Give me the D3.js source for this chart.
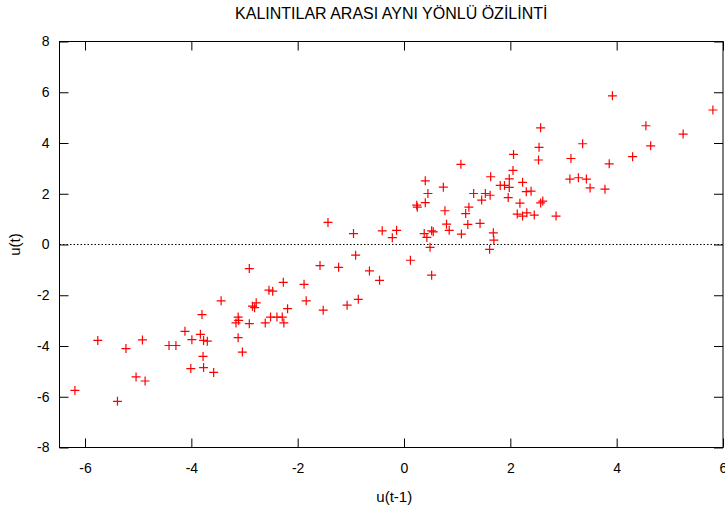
<!DOCTYPE html>
<html lang="tr">
  <head>
    <meta charset="UTF-8" />
    <script src="https://d3js.org/d3.v7.min.js"></script>
    <title>Kalıntılar arası özilinti</title>
    <style>
      body { margin: 0; background: #fff; }
      text { font-family: "Liberation Sans", Arial, sans-serif; fill: #000; }
    </style>
  </head>
  <body>
    <svg id="chart" width="725" height="507"></svg>

    <script>
      // u(t-1) values
      const lagResid = [
        -6.19, -5.76, -5.23, -5.39, -4.92, -5.04, -4.87, -4.42, -4.29, -4.12,
        -3.99, -4.01, -3.80, -3.83, -3.77, -3.70, -3.78, -3.77, -3.58, -3.44,
        -3.12, -3.11, -3.16, -3.12, -3.04, -2.91, -2.91, -2.85, -2.81, -2.78,
        -2.61, -2.54, -2.47, -2.51, -2.39, -2.29, -2.27, -2.26, -2.19, -1.88,
        -1.84, -1.58, -1.52, -1.43, -1.23, -1.07, -0.95, -0.91, -0.86, -0.65,
        -0.46, -0.41, -0.22, -0.14, 0.12, 0.24, 0.25, 0.40, 0.38, 0.43,
        0.52, 0.55, 0.49, 0.52, 0.40, 0.45, 0.74, 0.77, 0.80, 0.85,
        1.07, 1.08, 1.16, 1.20, 1.22, 1.31, 1.43, 1.46, 1.53, 1.62,
        1.63, 1.61, 1.68, 1.69, 1.81, 1.89, 1.98, 1.98, 1.96, 2.05,
        2.06, 2.13, 2.18, 2.23, 2.23, 2.30, 2.31, 2.39, 2.45, 2.53,
        2.54, 2.57, 2.57, 2.61, 2.86, 3.12, 3.14, 3.28, 3.36, 3.43,
        3.50, 3.78, 3.86, 3.92, 4.30, 4.55, 4.64, 5.25, 5.81
      ];
      // u(t) values
      const resid = [
        -5.75, -3.78, -4.10, -6.18, -3.76, -5.22, -5.38, -3.98, -3.98, -3.42,
        -3.75, -4.89, -2.76, -3.54, -3.78, -3.81, -4.41, -4.85, -5.04, -2.22,
        -2.86, -2.99, -3.09, -3.67, -4.24, -3.12, -0.95, -2.43, -2.49, -2.30,
        -3.09, -1.80, -1.84, -2.86, -2.86, -2.86, -1.49, -3.09, -2.53, -1.57,
        -2.22, -0.83, -2.59, 0.87, -0.90, -2.39, 0.43, -0.42, -2.16, -1.04,
        -1.41, 0.54, 0.27, 0.56, -0.62, 1.55, 1.47, 1.65, 0.43, 0.28,
        0.54, 0.50, -0.11, -1.21, 2.51, 2.01, 2.26, 1.33, 0.80, 0.56,
        3.16, 0.41, 1.22, 0.79, 1.47, 2.01, 0.83, 1.75, 2.01, 1.94,
        2.67, -0.19, 0.46, 0.17, 2.33, 2.33, 2.59, 2.25, 1.85, 2.92,
        3.55, 1.20, 1.63, 2.45, 1.12, 2.08, 1.25, 2.10, 1.16, 3.33,
        3.83, 4.60, 1.64, 1.71, 1.12, 2.58, 3.39, 2.63, 3.97, 2.58,
        2.23, 2.18, 3.18, 5.86, 3.46, 4.68, 3.89, 4.35, 5.30
      ];
      const xTicks = [-6, -4, -2, 0, 2, 4, 6];
      const yTicks = [-8, -6, -4, -2, 0, 2, 4, 6, 8];
      const title = "KALINTILAR ARASI AYNI YÖNLÜ ÖZİLİNTİ";

      const svg = d3.select("#chart");
      const margin = { top: 41.5, right: 2, bottom: 60, left: 59.5 };
      const width = +svg.attr("width");
      const height = +svg.attr("height");

      const x = d3.scaleLinear().domain([-6.48, 6]).range([margin.left, width - margin.right]);
      const y = d3.scaleLinear().domain([-8, 8]).range([height - margin.bottom + 0.5, margin.top]);

      const tickLen = 9;
      const fmt = d => String(d); // plain hyphen, like gnuplot

      // frame
      svg.append("rect")
        .attr("x", x.range()[0])
        .attr("y", y.range()[1])
        .attr("width", x.range()[1] - x.range()[0])
        .attr("height", y.range()[0] - y.range()[1])
        .attr("fill", "none")
        .attr("stroke", "#000")
        .attr("stroke-width", 1);

      // inward ticks, mirrored like gnuplot
      const axisBottom = d3.axisBottom(x).tickValues(xTicks).tickFormat(fmt).tickSizeInner(-tickLen).tickSizeOuter(0).tickPadding(16);
      const gx = svg.append("g").attr("transform", `translate(0,${y.range()[0]})`).call(axisBottom);
      gx.select(".domain").remove();
      gx.selectAll("text").style("font-size", "14px").attr("font-family", null);

      const axisTop = d3.axisTop(x).tickValues(xTicks).tickSizeInner(-tickLen).tickSizeOuter(0).tickFormat("");
      const gxt = svg.append("g").attr("transform", `translate(0,${y.range()[1]})`).call(axisTop);
      gxt.select(".domain").remove();

      const axisLeft = d3.axisLeft(y).tickValues(yTicks).tickFormat(fmt).tickSizeInner(-tickLen).tickSizeOuter(0).tickPadding(10);
      const gy = svg.append("g").attr("transform", `translate(${x.range()[0]},0)`).call(axisLeft);
      gy.select(".domain").remove();
      gy.selectAll("text").style("font-size", "14px").attr("font-family", null);

      const axisRight = d3.axisRight(y).tickValues(yTicks).tickSizeInner(-tickLen).tickSizeOuter(0).tickFormat("");
      const gyr = svg.append("g").attr("transform", `translate(${x.range()[1]},0)`).call(axisRight);
      gyr.select(".domain").remove();

      // zero line
      svg.append("line")
        .attr("x1", x.range()[0])
        .attr("x2", x.range()[1])
        .attr("y1", y(0))
        .attr("y2", y(0))
        .attr("stroke", "#000")
        .attr("stroke-width", 1)
        .attr("stroke-dasharray", "1.5,2");

      // points as "+"
      const pts = lagResid.map((v, i) => [v, resid[i]]);
      const s = 4.5;
      svg.append("g")
        .selectAll("path")
        .data(pts)
        .enter()
        .append("path")
        .attr("d", d => {
          const px = x(d[0]), py = y(d[1]);
          return `M${px - s},${py}H${px + s}M${px},${py - s}V${py + s}`;
        })
        .attr("stroke", "#ff0000")
        .attr("stroke-width", 1.2)
        .attr("fill", "none");

      // labels
      svg.append("text")
        .attr("x", (x.range()[0] + x.range()[1]) / 2)
        .attr("y", 19)
        .attr("text-anchor", "middle")
        .style("font-size", "16px")
        .text(title);

      svg.append("text")
        .attr("x", (x.range()[0] + x.range()[1]) / 2 + 3)
        .attr("y", 502)
        .attr("text-anchor", "middle")
        .style("font-size", "15px")
        .text("u(t-1)");

      svg.append("text")
        .attr("transform", `translate(19.5,${y(0)}) rotate(-90)`)
        .attr("text-anchor", "middle")
        .style("font-size", "15px")
        .text("u(t)");
    </script>
  </body>
</html>
